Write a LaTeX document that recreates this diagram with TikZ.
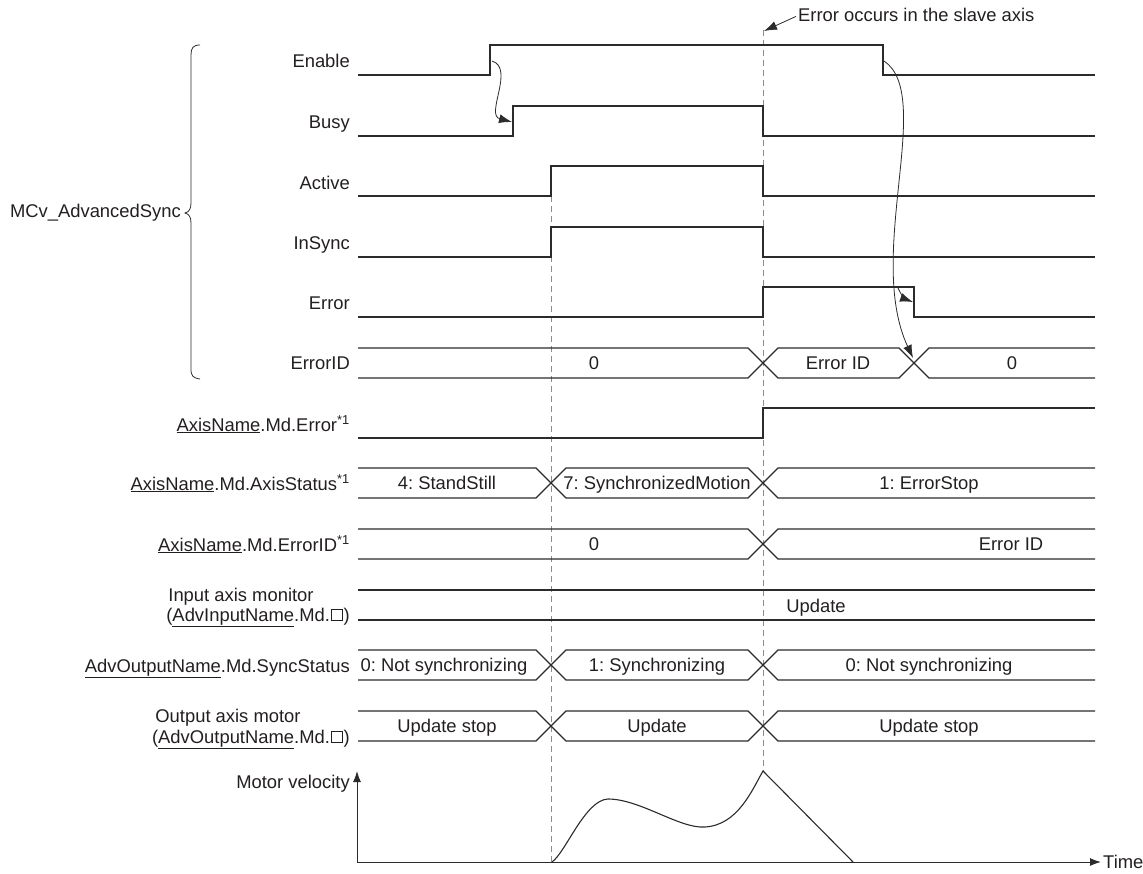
\documentclass[tikz,border=0pt]{standalone}
\usepackage{fontspec}
\setmainfont{Liberation Sans}
\usetikzlibrary{arrows.meta}
\definecolor{sigc}{HTML}{2B2B2B}
\definecolor{dashc}{HTML}{8C8C8C}
\definecolor{txtc}{HTML}{231F20}
\newcommand\axn{\underline{AxisName}}
\newcommand\sqr{\kern1pt\begingroup\setlength\fboxsep{0pt}\setlength\fboxrule{1.1pt}\raisebox{1.1pt}{\fbox{\rule{0pt}{9.5pt}\rule{9.5pt}{0pt}}}\endgroup\kern1pt}
\newcommand\sone{\textsuperscript{*1}}
\frenchspacing
\begin{document}
\begin{tikzpicture}[x=1pt,y=-1pt,
  every node/.style={font=\fontsize{18.4}{21}\selectfont\frenchspacing, text=txtc, inner sep=0pt},
  lab/.style={anchor=base east},
  val/.style={anchor=base},
  sigline/.style={draw=sigc, line width=1.2pt, line join=miter},
  dashline/.style={draw=dashc, line width=1pt, dash pattern=on 6pt off 4pt},
  note/.style={draw=sigc, line width=0.8pt, -{Latex[length=13pt,width=9pt]}},
  axisline/.style={draw=sigc, line width=1pt, -{Latex[length=11pt,width=8pt]}}]
\useasboundingbox (0,0) rectangle (1143,874);

% dashed reference lines
\draw[dashline] (551,166) -- (551,862);
\draw[dashline] (763,30) -- (763,771);

% annotation
\node[anchor=base west] (ann) at (798,22) {Error occurs in the slave axis};
\coordinate (errpt) at (764,31);
\draw[note] ([xshift=-2pt,yshift=-1pt]ann.west) -- (errpt);

% brace and group label
\draw[draw=sigc, line width=0.8pt] (200,45) .. controls (193,45) and (191,48) .. (191,55) -- (191,203)
  .. controls (191,209) and (189,212) .. (185,213) .. controls (189,214) and (191,217) .. (191,223)
  -- (191,369) .. controls (191,376) and (193,378) .. (200,379);
\node[lab] (grp) at (181,218) {MCv\_AdvancedSync};

% labels
\node[lab] (lEnable) at (350,68) {Enable};
\node[lab] (lBusy) at (350,129) {Busy};
\node[lab] (lActive) at (350,190) {Active};
\node[lab] (lInSync) at (350,250) {InSync};
\node[lab] (lError) at (350,310) {Error};
\node[lab] (lErrorID) at (350,370) {ErrorID};
\node[lab] (lAxErr) at (350,431) {\axn.Md.Error\sone};
\node[lab] (lAxSt) at (350,490) {\axn.Md.AxisStatus\sone};
\node[lab] (lAxEID) at (350,551) {\axn.Md.ErrorID\sone};
\node[anchor=base] (lIn1) at (241,601) {Input axis monitor};
\node[lab] (lIn2) at (350,621) {(\underline{AdvInputName}.Md.\sqr)};
\node[lab] (lSync) at (350,672) {\underline{AdvOutputName}.Md.SyncStatus};
\node[anchor=base] (lOut1) at (228,722) {Output axis motor};
\node[lab] (lOut2) at (350,743) {(\underline{AdvOutputName}.Md.\sqr)};

% bit signals
\draw[sigline] (358,75) -- (490,75) -- (490,45) -- (883,45) -- (883,75) -- (1095,75);
\draw[sigline] (358,136) -- (513,136) -- (513,106) -- (763,106) -- (763,136) -- (1095,136);
\draw[sigline] (358,196) -- (551,196) -- (551,166) -- (763,166) -- (763,196) -- (1095,196);
\draw[sigline] (358,257) -- (551,257) -- (551,227) -- (763,227) -- (763,257) -- (1095,257);
\draw[sigline] (358,317) -- (763,317) -- (763,287) -- (914,287) -- (914,317) -- (1095,317);
\draw[sigline] (358,438) -- (763,438) -- (763,408) -- (1095,408);

% ErrorID bus
\draw[sigline] (358,348) -- (748,348) -- (778,378) -- (899,378) -- (929,348) -- (1095,348);
\draw[sigline] (358,378) -- (748,378) -- (778,348) -- (899,348) -- (929,378) -- (1095,378);
\node[val] (e0a) at (594,369.5) {0};
\node[val] (e1) at (838,369.5) {Error ID};
\node[val] (e0b) at (1012,369.5) {0};

% AxisStatus bus
\draw[sigline] (358,468) -- (536,468) -- (566,498) -- (748,498) -- (778,468) -- (1095,468);
\draw[sigline] (358,498) -- (536,498) -- (566,468) -- (748,468) -- (778,498) -- (1095,498);
\node[val] (s4) at (447,489.5) {4: StandStill};
\node[val] (s7) at (657,489.5) {7: SynchronizedMotion};
\node[val] (s1) at (929,489.5) {1: ErrorStop};

% AxisName.Md.ErrorID bus
\draw[sigline] (358,529) -- (748,529) -- (778,559) -- (1095,559);
\draw[sigline] (358,559) -- (748,559) -- (778,529) -- (1095,529);
\node[val] (a0) at (594,550.5) {0};
\node[val] (a1) at (1011,550.5) {Error ID};

% Input axis monitor
\draw[sigline] (358,590) -- (1095,590);
\draw[sigline] (358,620) -- (1095,620);
\node[val] (upd) at (816,612) {Update};

% SyncStatus bus
\draw[sigline] (358,650) -- (536,650) -- (566,680) -- (748,680) -- (778,650) -- (1095,650);
\draw[sigline] (358,680) -- (536,680) -- (566,650) -- (748,650) -- (778,680) -- (1095,680);
\node[val] (y0a) at (444,671.5) {0: Not synchronizing};
\node[val] (y1) at (657,671.5) {1: Synchronizing};
\node[val] (y0b) at (929,671.5) {0: Not synchronizing};

% Output axis motor bus
\draw[sigline] (358,711) -- (536,711) -- (566,741) -- (748,741) -- (778,711) -- (1095,711);
\draw[sigline] (358,741) -- (536,741) -- (566,711) -- (748,711) -- (778,741) -- (1095,741);
\node[val] (o1) at (447,732.5) {Update stop};
\node[val] (o2) at (657,732.5) {Update};
\node[val] (o3) at (929,732.5) {Update stop};

% cause arrows
\draw[note] (492,61) .. controls (515,68) and (485,115) .. (512,122);
\draw[note] (884,61) .. controls (935,95) and (865,255) .. (913,358);
\draw[note] (897,286) .. controls (901,295) and (905,299) .. (913,302);

% motor velocity plot
\coordinate (origin) at (357,862);
\coordinate (ytop) at (357,771);
\coordinate (xend) at (1101,862);
\draw[axisline] (origin) -- (ytop);
\draw[axisline] (origin) -- (xend);
\node[lab] (mv) at (350,788) {Motor velocity};
\node[anchor=base west] (time) at (1103,868.5) {Time};
\draw[draw=sigc, line width=1.1pt] (552,862) .. controls (566,852) and (585,800) .. (608,799)
  .. controls (640,799) and (680,829) .. (705,827)
  .. controls (738,825) and (752,790) .. (763,771) -- (853,862);
\end{tikzpicture}
\end{document}
